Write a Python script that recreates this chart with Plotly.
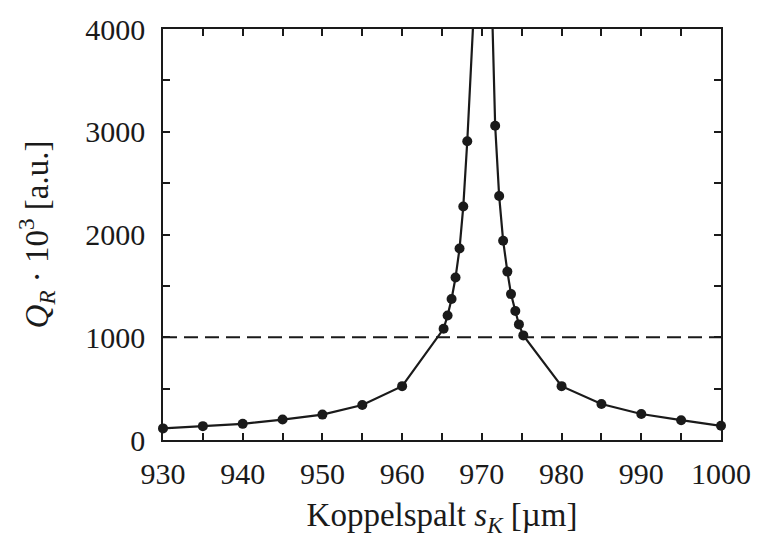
import plotly.graph_objects as go

# Coupling gap s_K [µm] and Q_R * 10^3 [a.u.]
gap_um = [930, 935, 940, 945, 950, 955, 960,
          965.2, 965.7, 966.2, 966.7, 967.2, 967.67, 968.17, 969.17,
          970.17,
          971.17, 971.67, 972.17, 972.67, 973.2, 973.66, 974.2, 974.65, 975.2,
          980, 985, 990, 995, 1000]
q_r = [113, 135, 157, 199, 247, 340, 524,
       1082, 1211, 1372, 1581, 1863, 2272, 2908, 4790,
       6000,
       4530, 3058, 2374, 1940, 1639, 1420, 1256, 1125, 1018,
       524, 350, 253, 193, 138]

threshold = 1000
x_range = [930, 1000]
y_range = [0, 4000]
x_major, x_minor = 10, 5
y_major, y_minor = 1000, 500

ink = "#1a1a1a"
font_family = "Liberation Serif, Times New Roman, serif"

fig = go.Figure()

# dashed threshold line
fig.add_trace(go.Scatter(x=x_range, y=[threshold, threshold], mode="lines",
                         line=dict(color=ink, width=2.2, dash="14px,7px"),
                         hoverinfo="skip", showlegend=False))

# connecting line (clipped to plot area)
fig.add_trace(go.Scatter(x=gap_um, y=q_r, mode="lines",
                         line=dict(color=ink, width=2.2), showlegend=False))

# markers for points inside the visible range
mx = [x for x, y in zip(gap_um, q_r) if y <= y_range[1]]
my = [y for y in q_r if y <= y_range[1]]
fig.add_trace(go.Scatter(x=mx, y=my, mode="markers",
                         marker=dict(color=ink, size=10),
                         cliponaxis=False, showlegend=False))

axis_common = dict(showline=True, linecolor=ink, linewidth=1.5, mirror="allticks",
                   ticks="inside", ticklen=7, tickwidth=1.5, tickcolor=ink,
                   showgrid=False, zeroline=False,
                   tickfont=dict(family=font_family, size=30, color=ink))

fig.update_layout(
    width=763, height=539,
    margin=dict(l=163, r=35, t=25, b=99),
    plot_bgcolor="white", paper_bgcolor="white",
    font=dict(family=font_family, color=ink),
    xaxis=dict(range=x_range, tick0=930, dtick=x_major,
               minor=dict(dtick=x_minor, tick0=930, ticks="inside", ticklen=7,
                          tickwidth=1.5, tickcolor=ink, showgrid=False),
               ticklabelstandoff=6,
               title=dict(text="Koppelspalt <i>s</i><sub><i>K</i></sub> [µm]",
                          font=dict(family=font_family, size=33, color=ink), standoff=14),
               **axis_common),
    yaxis=dict(range=y_range, tick0=0, dtick=y_major,
               minor=dict(dtick=y_minor, tick0=0, ticks="inside", ticklen=7,
                          tickwidth=1.5, tickcolor=ink, showgrid=False),
               ticklabelstandoff=10,
               title=dict(text="<i>Q</i><sub><i>R</i></sub> · 10<sup>3</sup> [a.u.]",
                          font=dict(family=font_family, size=33, color=ink), standoff=27),
               **axis_common),
)

fig.write_html("out.html")
